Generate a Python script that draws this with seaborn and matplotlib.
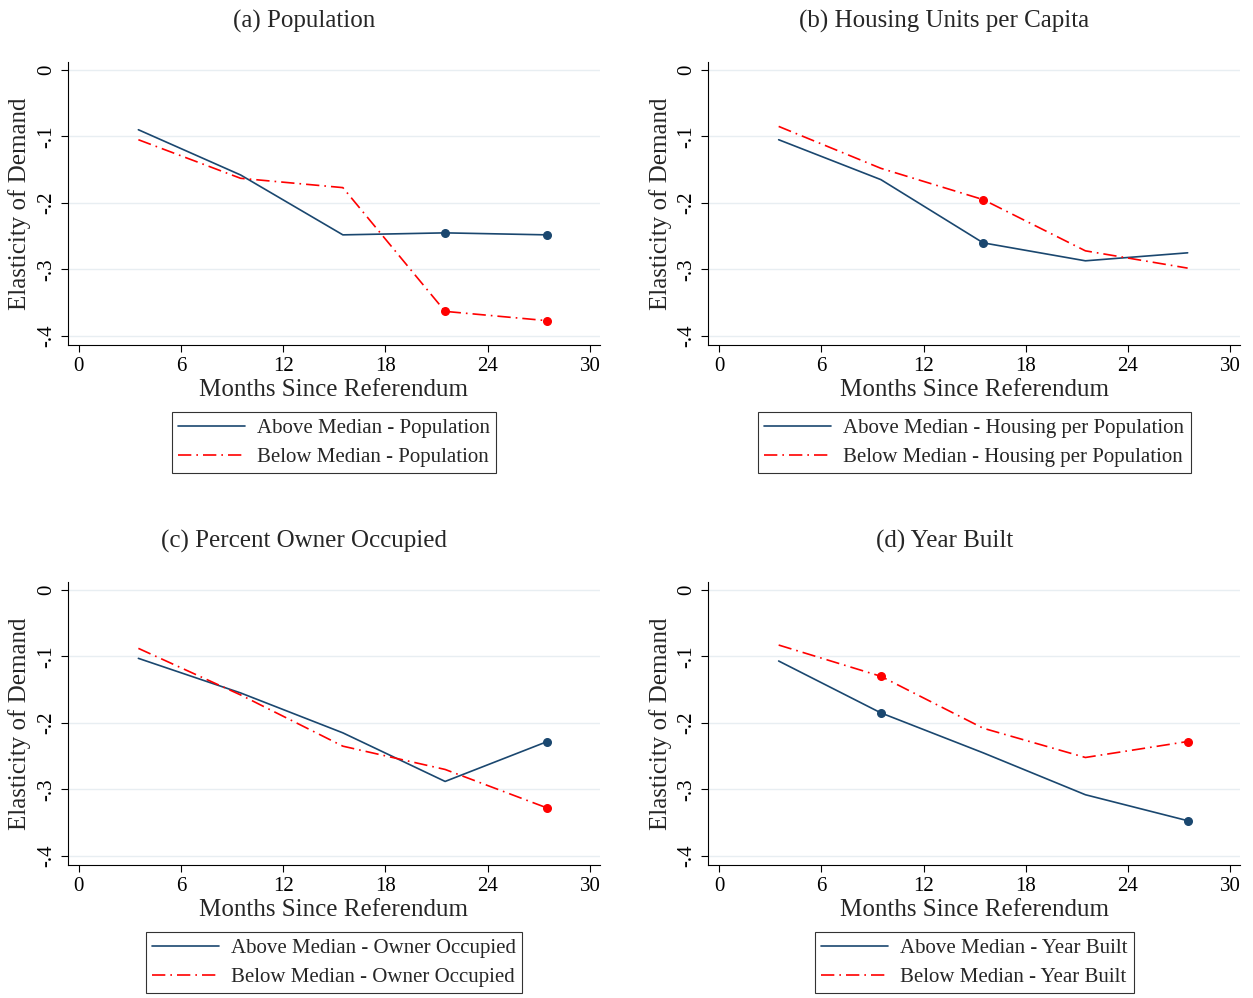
import numpy as np
import matplotlib.pyplot as plt
import pandas as pd
import seaborn as sns

sns.set_style("white")
plt.rcParams['font.family'] = ['Liberation Serif', 'DejaVu Serif']

months = [3.5, 9.5, 15.5, 21.5, 27.5]

titles = ["(a) Population", "(b) Housing Units per Capita",
          "(c) Percent Owner Occupied", "(d) Year Built"]
labels = ["Population", "Housing per Population", "Owner Occupied", "Year Built"]

above = [[-0.090, -0.158, -0.248, -0.245, -0.248],
         [-0.105, -0.165, -0.260, -0.287, -0.275],
         [-0.103, -0.155, -0.215, -0.288, -0.228],
         [-0.107, -0.185, -0.245, -0.308, -0.347]]
below = [[-0.105, -0.163, -0.177, -0.363, -0.377],
         [-0.085, -0.148, -0.195, -0.272, -0.298],
         [-0.088, -0.158, -0.235, -0.270, -0.328],
         [-0.083, -0.130, -0.208, -0.252, -0.228]]
# significant points (drawn with a dot)
above_sig = [[21.5, 27.5], [15.5], [27.5], [9.5, 27.5]]
below_sig = [[21.5, 27.5], [15.5], [27.5], [9.5, 27.5]]

navy = "#1a476f"
red = "#ff0000"

fig = plt.figure(figsize=(12.53, 9.98), dpi=100, facecolor="w")
lefts = [0.054, 0.565, 0.054, 0.565]
bottoms = [0.654, 0.654, 0.133, 0.133]

for i in range(4):
    ax = fig.add_axes([lefts[i], bottoms[i], 0.425, 0.284])
    df = pd.DataFrame({"m": months, "a": above[i], "b": below[i]})
    sns.lineplot(data=df, x="m", y="a", ax=ax, color=navy, lw=1.2,
                 label="Above Median - " + labels[i])
    sns.lineplot(data=df, x="m", y="b", ax=ax, color=red, lw=1.2,
                 linestyle=(0, (8, 3, 1, 3)), label="Below Median - " + labels[i])
    sa = df[df["m"].isin(above_sig[i])]
    sb = df[df["m"].isin(below_sig[i])]
    ax.scatter(sa["m"], sa["a"], color=navy, s=30, zorder=5)
    ax.scatter(sb["m"], sb["b"], color=red, s=30, zorder=5)

    ax.set_xlim(-0.65, 30.6)
    ax.set_ylim(-0.414, 0.012)
    ax.set_xticks([0, 6, 12, 18, 24, 30])
    ax.set_yticks([0, -0.1, -0.2, -0.3, -0.4])
    ax.set_yticklabels(["0", "-.1", "-.2", "-.3", "-.4"], rotation=90, va="center")
    ax.tick_params(axis="both", labelsize=15, length=5, width=0.8, direction="out",
                   bottom=True, left=True, colors="black")
    ax.yaxis.grid(True, color="#e8eef2", lw=1)
    for s in ["top", "right"]:
        ax.spines[s].set_visible(False)
    for s in ["left", "bottom"]:
        ax.spines[s].set_color("black")
        ax.spines[s].set_linewidth(0.8)
    ax.set_xlabel("Months Since Referendum", fontsize=18, labelpad=2)
    ax.set_ylabel("Elasticity of Demand", fontsize=18, labelpad=4)
    ax.set_title(titles[i], fontsize=18, pad=25, x=0.444)
    leg = ax.legend(loc="upper center", bbox_to_anchor=(0.5, -0.2), fontsize=15,
                    frameon=True, fancybox=False, edgecolor="black",
                    handlelength=3.2, handletextpad=0.6, borderpad=0.3,
                    labelspacing=0.45)
    leg.get_frame().set_linewidth(0.8)

fig.savefig("out.png", dpi=100, facecolor="w")
